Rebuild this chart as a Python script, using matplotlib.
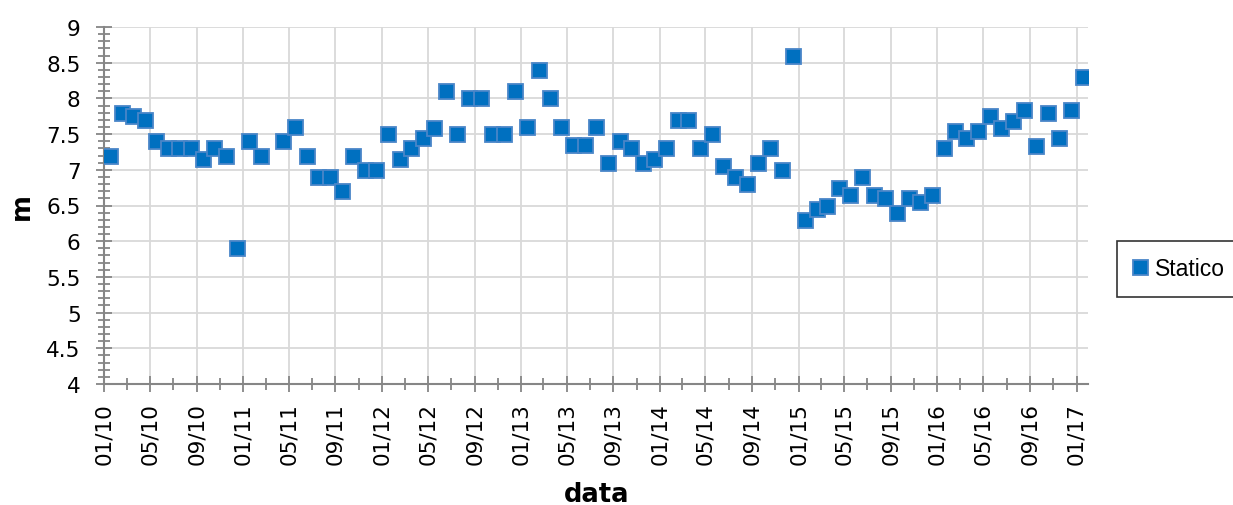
import numpy as np
import pandas as pd
import matplotlib
matplotlib.use("Agg")
import matplotlib.pyplot as plt
import matplotlib.dates as mdates
from matplotlib.ticker import MultipleLocator, FuncFormatter

# monthly readings, jan 2010 -> jan 2017 (march 2011 missing)
first_month = "2010-01"
n_months = 85
statico = [
	7.2, 7.8, 7.75, 7.7, 7.4, 7.3, 7.3, 7.3, 7.15, 7.3, 7.2, 5.9,
	7.4, 7.2, np.nan, 7.4, 7.6, 7.2, 6.9, 6.9, 6.7, 7.2, 7.0, 7.0,
	7.5, 7.15, 7.3, 7.45, 7.58, 8.1, 7.5, 8.0, 8.0, 7.5, 7.5, 8.1,
	7.6, 8.4, 8.0, 7.6, 7.35, 7.35, 7.6, 7.1, 7.4, 7.3, 7.1, 7.15,
	7.3, 7.7, 7.7, 7.3, 7.5, 7.05, 6.9, 6.8, 7.1, 7.3, 7.0, 8.6,
	6.3, 6.45, 6.5, 6.75, 6.65, 6.9, 6.65, 6.6, 6.4, 6.6, 6.55, 6.65,
	7.3, 7.55, 7.45, 7.55, 7.75, 7.58, 7.68, 7.84, 7.33, 7.8, 7.45, 7.84,
	8.3,
]
series_name = "Statico"
x_label = "data"
y_label = "m"

dates = pd.date_range(first_month, periods=n_months, freq="MS") + pd.Timedelta(days=16)

grey = "#868686"
grid_col = "#D9D9D9"

fig = plt.figure(figsize=(12.33, 5.06), dpi=100)
ax = fig.add_axes([104.3 / 1233, 1 - 385 / 506, (1088 - 104.3) / 1233, (385 - 28) / 506])

ax.plot(dates, statico, linestyle="none", marker="s", markersize=10.8,
	markerfacecolor="#0070C0", markeredgecolor="#4A86C8", markeredgewidth=1.3,
	label=series_name, zorder=3)

ax.set_ylim(4, 9)
ax.set_xlim(pd.Timestamp("2010-01-01"), pd.Timestamp("2017-01-31"))

ax.yaxis.set_major_locator(MultipleLocator(0.5))
ax.yaxis.set_minor_locator(MultipleLocator(0.1))
ax.yaxis.set_major_formatter(FuncFormatter(lambda v, p: "%g" % v))
ax.xaxis.set_major_locator(mdates.MonthLocator(bymonth=[1, 5, 9]))
ax.xaxis.set_minor_locator(mdates.MonthLocator(bymonth=[3, 7, 11]))
ax.xaxis.set_major_formatter(mdates.DateFormatter("%m/%y"))

ax.grid(True, which="major", color=grid_col, linewidth=1.3, zorder=0)
ax.set_axisbelow(True)

for s in ["top", "right"]:
	ax.spines[s].set_visible(False)
for s in ["left", "bottom"]:
	ax.spines[s].set_color(grey)
	ax.spines[s].set_linewidth(1.5)

ax.tick_params(which="major", direction="inout", length=12, width=1.3, color=grey)
ax.tick_params(which="minor", direction="inout", length=9, width=1.3, color=grey)
ax.tick_params(axis="y", which="major", pad=11, labelsize=15.5)
ax.tick_params(axis="x", which="major", pad=7, labelsize=15.5, labelrotation=90)

ax.set_xlabel(x_label, fontsize=18.5, fontweight="bold", labelpad=12)
ax.set_ylabel(y_label, fontsize=18.5, fontweight="bold", labelpad=8)

leg = fig.legend(loc="center left", bbox_to_anchor=(1117 / 1233, 1 - 270 / 506),
	frameon=True, fancybox=False, edgecolor="black", handlelength=0.6,
	handletextpad=0.35, borderpad=0.7, borderaxespad=0, markerscale=1.0,
	prop={"family": ["Liberation Sans", "DejaVu Sans"], "size": 16.5})
leg.get_frame().set_linewidth(1.2)

fig.savefig("out.png", dpi=100)
